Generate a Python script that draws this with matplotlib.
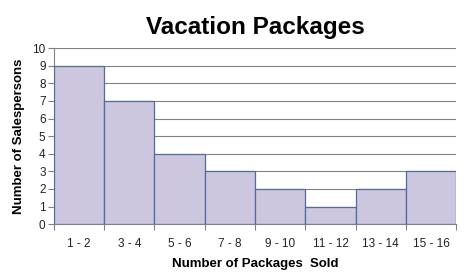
import matplotlib.pyplot as plt

plt.rcParams['font.family'] = ['Liberation Sans', 'DejaVu Sans']

bins = ['1 - 2', '3 - 4', '5 - 6', '7 - 8', '9 - 10', '11 - 12', '13 - 14', '15 - 16']
salespersons = [9, 7, 4, 3, 2, 1, 2, 3]

fig = plt.figure(figsize=(4.65, 2.75), dpi=100)
ax = fig.add_axes([0.116, 0.185, 0.865, 0.64])

pos = list(range(len(bins)))
ax.bar(pos, salespersons, width=1.0, color='#cdc6df', edgecolor='#4f6c9c', linewidth=0.9, zorder=3)

ax.set_xlim(-0.5, len(bins) - 0.5)
ax.set_ylim(0, 10)
ax.set_yticks(range(0, 11))
ax.set_xticks(pos)
ax.set_xticklabels(bins)
ax.set_xticks([p - 0.5 for p in pos] + [len(bins) - 0.5], minor=True)
ax.tick_params(axis='x', which='major', length=0, pad=10, labelsize=8.5, colors='#222222')
ax.tick_params(axis='x', which='minor', length=4, width=0.8, color='#808080', direction='out')
ax.tick_params(axis='y', length=4, width=0.8, color='#808080', labelsize=8.5, labelcolor='#222222', pad=2)

ax.yaxis.grid(True, color='#808080', linewidth=0.8, zorder=0)
for s in ['top', 'right']:
    ax.spines[s].set_visible(False)
for s in ['left', 'bottom']:
    ax.spines[s].set_color('#808080')
    ax.spines[s].set_linewidth(0.8)

ax.set_title('Vacation Packages', fontsize=17.5, fontweight='bold', pad=10, x=0.5)
ax.set_xlabel('Number of Packages  Sold', fontsize=9.5, fontweight='bold', labelpad=6)
ax.set_ylabel('Number of Salespersons', fontsize=9.5, fontweight='bold', labelpad=5)

fig.savefig('out.png', dpi=100)
